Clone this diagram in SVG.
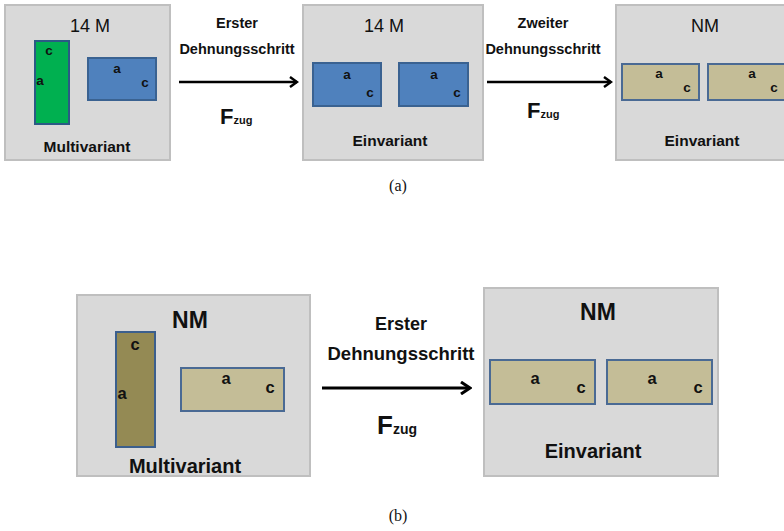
<svg xmlns="http://www.w3.org/2000/svg" width="784" height="531" viewBox="0 0 784 531">
<defs>
<marker id="ah" markerWidth="10" markerHeight="12" refX="8" refY="6" orient="auto" markerUnits="userSpaceOnUse">
<path d="M1,1 L8,6 L1,11" fill="none" stroke="#000" stroke-width="2.5"/>
</marker>
<marker id="ah2" markerWidth="12" markerHeight="14" refX="10" refY="7" orient="auto" markerUnits="userSpaceOnUse">
<path d="M1,1 L10,7 L1,13" fill="none" stroke="#000" stroke-width="3"/>
</marker>
</defs>
<style>
text{font-family:"Liberation Sans",Arial,sans-serif;fill:#111;}
.box{fill:#d9d9d9;stroke:#bfbfbf;stroke-width:2;}
.green{fill:#00b050;stroke:#2b5a85;stroke-width:2;}
.blue{fill:#4f81bd;stroke:#3a6291;stroke-width:2;}
.tan{fill:#c4bd97;stroke:#4a6a94;stroke-width:2;}
.olive{fill:#948a54;stroke:#3b5f8d;stroke-width:2;}
.ttl{font-size:18px;text-anchor:middle;}
.lbl{font-size:15.5px;font-weight:bold;text-anchor:middle;}
.sl{font-size:13.5px;font-weight:bold;text-anchor:middle;}
.bl{font-size:16.5px;font-weight:bold;text-anchor:middle;}
.st{font-size:14.5px;font-weight:bold;text-anchor:middle;}
.cap{font-family:"Liberation Serif","Times New Roman",serif;font-size:16px;text-anchor:middle;}
.arr{stroke:#000;fill:none;}
</style>

<g id="node-a1">
<rect class="box" x="5" y="5" width="165" height="155"/>
<text class="ttl" x="90" y="32">14 M</text>
<rect class="green" x="35" y="41" width="34" height="83"/>
<text class="sl" x="49" y="55">c</text>
<text class="sl" x="40" y="85">a</text>
<rect class="blue" x="88" y="58" width="68" height="42"/>
<text class="sl" x="117" y="73">a</text>
<text class="sl" x="145" y="87">c</text>
<text class="lbl" x="87" y="152">Multivariant</text>
</g>

<g id="node-a2">
<rect class="box" x="303" y="5" width="180" height="155"/>
<text class="ttl" x="384" y="32">14 M</text>
<rect class="blue" x="313" y="63" width="68" height="43"/>
<text class="sl" x="347" y="79">a</text>
<text class="sl" x="370" y="97">c</text>
<rect class="blue" x="399" y="63" width="69" height="43"/>
<text class="sl" x="434" y="79">a</text>
<text class="sl" x="457" y="97">c</text>
<text class="lbl" x="390" y="146">Einvariant</text>
</g>

<g id="node-a3">
<rect class="box" x="616" y="5" width="180" height="155"/>
<text class="ttl" x="705" y="32">NM</text>
<rect class="tan" x="622" y="64" width="77" height="36"/>
<text class="sl" x="659" y="78">a</text>
<text class="sl" x="687" y="92">c</text>
<rect class="tan" x="708" y="64" width="90" height="36"/>
<text class="sl" x="752" y="78">a</text>
<text class="sl" x="774" y="92">c</text>
<text class="lbl" x="702" y="146">Einvariant</text>
</g>

<g id="node-b1">
<rect class="box" x="77" y="295" width="233" height="181"/>
<text x="190" y="328" style="font-size:23px;text-anchor:middle;font-weight:bold">NM</text>
<rect class="olive" x="116" y="332" width="39" height="115"/>
<text class="bl" x="135" y="350">c</text>
<text class="bl" x="122" y="399">a</text>
<rect class="tan" x="181" y="368" width="103" height="43"/>
<text class="bl" x="226" y="384">a</text>
<text class="bl" x="270" y="393">c</text>
<text class="lbl" x="185" y="473" style="font-size:20px">Multivariant</text>
</g>

<g id="node-b2">
<rect class="box" x="484" y="288" width="234" height="188"/>
<text x="598" y="320" style="font-size:23px;text-anchor:middle;font-weight:bold">NM</text>
<rect class="tan" x="490" y="360" width="105" height="44"/>
<text class="bl" x="535" y="384">a</text>
<text class="bl" x="581" y="393">c</text>
<rect class="tan" x="607" y="360" width="105" height="44"/>
<text class="bl" x="652" y="384">a</text>
<text class="bl" x="698" y="393">c</text>
<text class="lbl" x="593" y="458" style="font-size:20px">Einvariant</text>
</g>

<g id="connectors">
<line class="arr" x1="179" y1="82" x2="297" y2="82" stroke-width="2.5" marker-end="url(#ah)"/>
<text class="st" x="237" y="28">Erster</text>
<text class="st" x="237" y="54">Dehnungsschritt</text>
<text x="220" y="124" style="font-size:22px;font-weight:bold">F<tspan style="font-size:11px">zug</tspan></text>

<line class="arr" x1="487" y1="82" x2="611" y2="82" stroke-width="2.5" marker-end="url(#ah)"/>
<text class="st" x="543" y="28">Zweiter</text>
<text class="st" x="543" y="54">Dehnungsschritt</text>
<text x="527" y="118" style="font-size:22px;font-weight:bold">F<tspan style="font-size:11px">zug</tspan></text>

<line class="arr" x1="322" y1="388" x2="470" y2="388" stroke-width="3" marker-end="url(#ah2)"/>
<text class="st" x="401" y="330" style="font-size:18px">Erster</text>
<text class="st" x="401" y="360" style="font-size:18.5px">Dehnungsschritt</text>
<text x="377" y="434" style="font-size:26px;font-weight:bold">F<tspan style="font-size:14px">zug</tspan></text>
</g>

<text class="cap" x="398" y="191">(a)</text>
<text class="cap" x="398" y="521">(b)</text>
</svg>
